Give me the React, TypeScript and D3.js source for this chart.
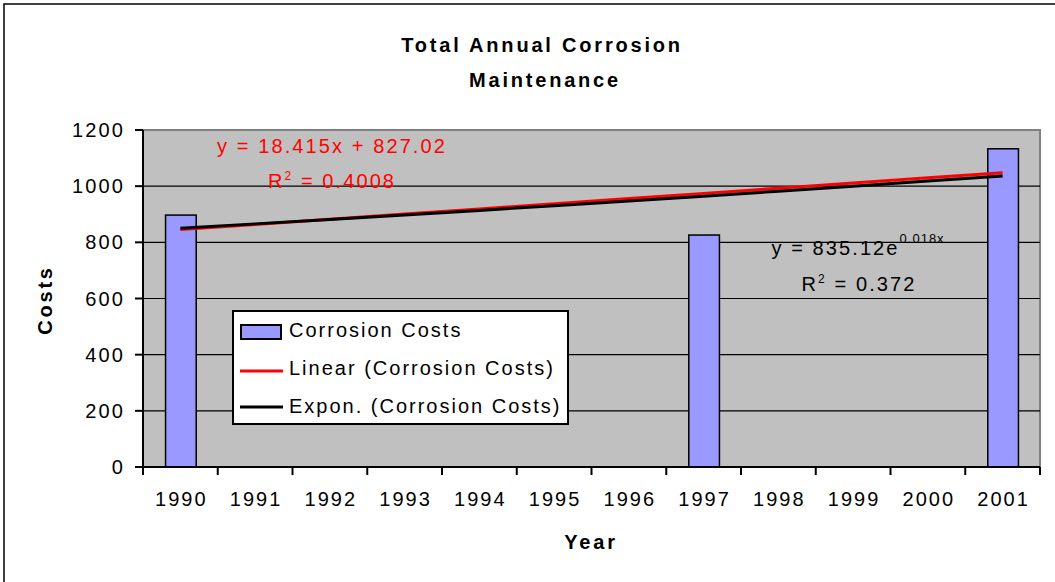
import React from "react";
import * as d3 from "d3";

const years = ["1990", "1991", "1992", "1993", "1994", "1995", "1996", "1997", "1998", "1999", "2000", "2001"];
const costs: (number | null)[] = [897, null, null, null, null, null, null, 826, null, null, null, 1133];
const yTicks = [0, 200, 400, 600, 800, 1000, 1200];
const linearSlope = 18.415;
const linearIntercept = 827.02;
const expA = 835.12;
const expB = 0.018;
const legendItems = ["Corrosion Costs", "Linear (Corrosion Costs)", "Expon. (Corrosion Costs)"];

const W = 1055;
const H = 582;
const FONT = "'Liberation Sans', Arial, sans-serif";

export default function App() {
  const left = 143, right = 1040, top = 130, bottom = 467;
  const x = d3.scaleBand<string>().domain(years).range([left, right]).padding(0);
  const y = d3.scaleLinear().domain([0, 1200]).range([bottom, top]);
  const bw = x.bandwidth();
  const barW = bw * 0.41;
  const cx = (yr: string) => (x(yr) as number) + bw / 2;

  const line = d3.line<[number, number]>().x((d) => d[0]).y((d) => d[1]);
  const linPts: [number, number][] = years.map((yr, i) => [cx(yr), y(linearSlope * (i + 1) + linearIntercept)]);
  const expPts: [number, number][] = years.map((yr, i) => [cx(yr), y(expA * Math.exp(expB * (i + 1)))]);

  const ls = 2.1;
  const boundaries = d3.range(years.length + 1).map((i) => left + i * bw);

  return (
    <svg width={W} height={H} style={{ position: "absolute", left: 0, top: 0, background: "#fff" }} fontFamily={FONT}>
      <rect x={0} y={0} width={W} height={H} fill="#fff" />
      {/* outer border */}
      <path d={`M4,${H + 5} L4,4 L${W + 5},4`} fill="none" stroke="#000" strokeWidth={1.5} />

      {/* title */}
      <text x={542} y={52} textAnchor="middle" fontSize={20} fontWeight="bold" style={{ letterSpacing: "2.8px" }}>
        Total Annual Corrosion
      </text>
      <text x={545} y={87} textAnchor="middle" fontSize={20} fontWeight="bold" style={{ letterSpacing: "2.8px" }}>
        Maintenance
      </text>

      {/* plot area */}
      <rect x={left} y={top} width={right - left} height={bottom - top} fill="#C0C0C0" />
      <path d={`M${left},${top} L${right},${top} L${right},${bottom}`} fill="none" stroke="#808080" strokeWidth={2} />
      {yTicks.filter((t) => t > 0 && t < 1200).map((t) => (
        <line key={t} x1={left} x2={right} y1={y(t)} y2={y(t)} stroke="#000" strokeWidth={1.2} />
      ))}

      {/* bars */}
      {years.map((yr, i) =>
        costs[i] == null ? null : (
          <rect key={yr} x={cx(yr) - barW / 2 + 0.5} y={y(costs[i] as number)} width={barW} height={bottom - y(costs[i] as number)}
            fill="#9999FF" stroke="#000" strokeWidth={1.5} />
        )
      )}

      {/* trendlines */}
      <path d={line(linPts) as string} fill="none" stroke="#FF0000" strokeWidth={3} />
      <path d={line(expPts) as string} fill="none" stroke="#000" strokeWidth={3} />

      {/* axes */}
      <line x1={left} x2={left} y1={top} y2={bottom} stroke="#000" strokeWidth={2} />
      <line x1={left} x2={right} y1={bottom} y2={bottom} stroke="#000" strokeWidth={2} />
      {yTicks.map((t) => (
        <g key={t}>
          <line x1={left - 8} x2={left} y1={y(t)} y2={y(t)} stroke="#000" strokeWidth={2} />
          <text x={125} y={y(t) + 7} textAnchor="end" fontSize={20} style={{ letterSpacing: `${ls}px` }}>{t}</text>
        </g>
      ))}
      {boundaries.map((b, i) => (
        <line key={i} x1={b} x2={b} y1={bottom} y2={bottom + 8} stroke="#000" strokeWidth={2} />
      ))}
      {years.map((yr) => (
        <text key={yr} x={cx(yr) + 1} y={506} textAnchor="middle" fontSize={20} style={{ letterSpacing: `${ls}px` }}>{yr}</text>
      ))}

      {/* axis titles */}
      <text x={591} y={549} textAnchor="middle" fontSize={20} fontWeight="bold" style={{ letterSpacing: "2.8px" }}>Year</text>
      <text transform="translate(52,300) rotate(-90)" textAnchor="middle" fontSize={20} fontWeight="bold" style={{ letterSpacing: "2.8px" }}>Costs</text>

      {/* trendline labels */}
      <text x={332} y={153} textAnchor="middle" fontSize={20} fill="#FF0000" style={{ letterSpacing: `${ls}px` }}>
        y = 18.415x + 827.02
      </text>
      <text x={332} y={188} textAnchor="middle" fontSize={20} fill="#FF0000" style={{ letterSpacing: `${ls}px` }}>
        R<tspan fontSize={12} dy={-8}>2</tspan><tspan dy={8}> = 0.4008</tspan>
      </text>
      <text x={858} y={255} textAnchor="middle" fontSize={20} fill="#000" style={{ letterSpacing: `${ls}px` }}>
        y = 835.12e<tspan fontSize={13} dy={-12} style={{ letterSpacing: "1px" }}>0.018x</tspan>
      </text>
      <text x={859} y={291} textAnchor="middle" fontSize={20} fill="#000" style={{ letterSpacing: `${ls}px` }}>
        R<tspan fontSize={12} dy={-8}>2</tspan><tspan dy={8}> = 0.372</tspan>
      </text>

      {/* legend */}
      <rect x={233} y={311} width={335} height={113} fill="#fff" stroke="#000" strokeWidth={2} />
      <rect x={241} y={325} width={40} height={14} fill="#9999FF" stroke="#000" strokeWidth={2} />
      <line x1={240} x2={283} y1={371} y2={371} stroke="#FF0000" strokeWidth={3} />
      <line x1={240} x2={283} y1={407} y2={407} stroke="#000" strokeWidth={3} />
      {legendItems.map((t, i) => (
        <text key={t} x={289} y={337 + i * 38} fontSize={20} style={{ letterSpacing: "2px" }}>{t}</text>
      ))}
    </svg>
  );
}
